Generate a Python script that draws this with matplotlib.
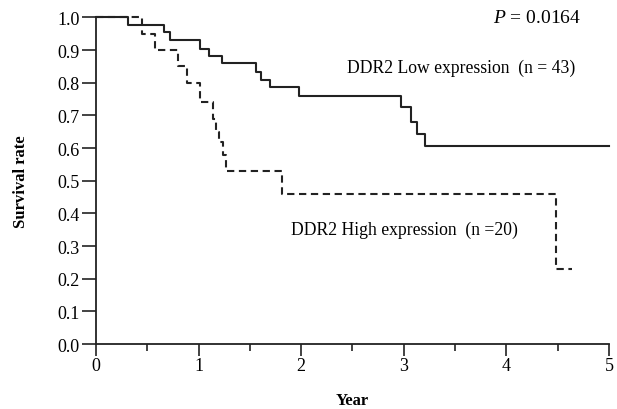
import matplotlib
matplotlib.use("Agg")
import matplotlib.pyplot as plt
from matplotlib.ticker import MultipleLocator

plt.rcParams['font.family'] = ['Liberation Serif', 'DejaVu Serif']
plt.rcParams['mathtext.fontset'] = 'custom'
plt.rcParams['mathtext.rm'] = 'Liberation Serif'
plt.rcParams['mathtext.it'] = 'Liberation Serif:italic'

# Kaplan-Meier step curves (time in years, survival)
low_t = [0, 0.31, 0.66, 0.72, 1.01, 1.10, 1.23, 1.56, 1.61, 1.70, 1.98, 2.97, 3.07, 3.13, 3.21, 5.0]
low_s = [1.0, 0.976, 0.955, 0.932, 0.903, 0.881, 0.860, 0.833, 0.809, 0.788, 0.759, 0.726, 0.680, 0.643, 0.606, 0.606]

high_t = [0, 0.45, 0.575, 0.80, 0.885, 1.01, 1.14, 1.17, 1.20, 1.24, 1.27, 1.81, 4.48, 4.64]
high_s = [1.0, 0.95, 0.90, 0.85, 0.80, 0.74, 0.69, 0.65, 0.62, 0.58, 0.53, 0.46, 0.23, 0.23]

low_label = "DDR2 Low expression  (n = 43)"
high_label = "DDR2 High expression  (n =20)"
p_value = "0.0164"

fig = plt.figure(figsize=(6.17, 4.10), dpi=100)
ax = fig.add_axes([0.1556, 0.1585, 0.8314, 0.7965])

col = '#222222'
ax.step(low_t, low_s, where='post', color=col, lw=1.5, clip_on=False)
ax.step(high_t, high_s, where='post', color=col, lw=1.5, ls=(0, (3.5, 2.2)), clip_on=False)

ax.set_xlim(0, 5)
ax.set_ylim(0, 1.0)
ax.xaxis.set_major_locator(MultipleLocator(1))
ax.xaxis.set_minor_locator(MultipleLocator(0.5))
ax.yaxis.set_major_locator(MultipleLocator(0.1))
ax.yaxis.set_major_formatter(plt.FormatStrFormatter('%.1f'))

for s in ['top', 'right']:
    ax.spines[s].set_visible(False)
for s in ['left', 'bottom']:
    ax.spines[s].set_color(col)
    ax.spines[s].set_linewidth(1.3)

ax.tick_params(axis='y', which='major', length=10, width=1.2, color=col, labelsize=13, pad=2)
ax.tick_params(axis='x', which='major', length=8.5, width=1.2, color=col, labelsize=13, pad=1)
ax.tick_params(axis='x', which='minor', length=5, width=1.2, color=col)

ax.set_xlabel("Year", fontsize=12, fontweight='bold', labelpad=13)
ax.set_ylabel("Survival rate", fontsize=12, fontweight='bold', labelpad=20)

ax.text(4.30, 1.0, "$\\mathit{P}$ = " + p_value, fontsize=14, ha='center', va='center')
ax.text(3.56, 0.848, low_label, fontsize=12.7, ha='center', va='center')
ax.text(3.01, 0.352, high_label, fontsize=12.7, ha='center', va='center')

fig.savefig("out.png", dpi=100)
